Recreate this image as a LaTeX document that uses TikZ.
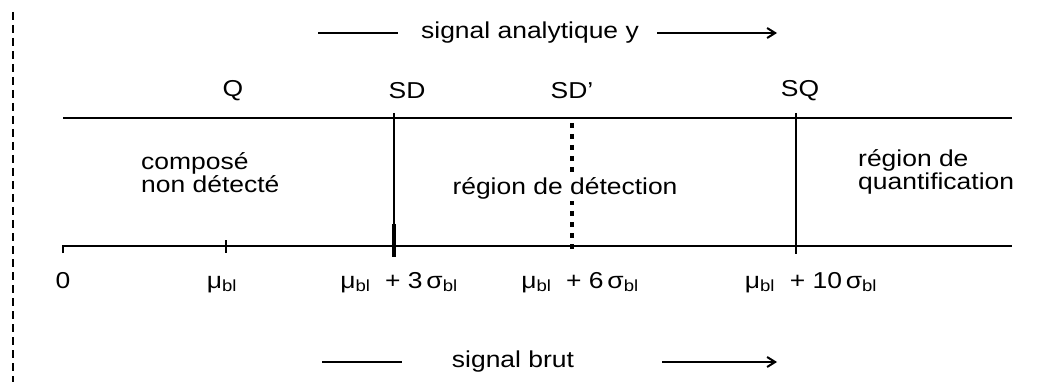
\documentclass[tikz,border=0pt]{standalone}
\usepackage{fontspec}
\setmainfont{Liberation Sans}[FakeStretch=1.15]
\usepackage{tikz}
\usetikzlibrary{positioning, arrows.meta}

\begin{document}
\begin{tikzpicture}[x=1pt, y=-1pt]
        \tikzstyle{lbl} = [font=\fontsize{23}{23}\selectfont, inner sep=0pt]
        \tikzstyle{txt} = [font=\fontsize{23}{23}\selectfont, inner sep=0pt, align=left]
        \tikzstyle{axis} = [line width=2.4pt]
        \tikzstyle{seuil} = [line width=2.4pt]
        \tikzstyle{arrow} = [line width=2pt, -{Straight Barb[length=8pt, width=10pt]}]

        \useasboundingbox (0,0) rectangle (1049,390);

        % bord gauche
        \coordinate (edge_top) at (13,12);
        \coordinate (edge_bot) at (13,382);
        \draw [line width=2pt, dash pattern=on 8pt off 5pt] (edge_top) -- (edge_bot);

        % signal analytique
        \node [lbl] (ana) at (530,33) {signal analytique y};
        \coordinate (ana_a) at (318,33);
        \coordinate (ana_b) at (398,33);
        \coordinate (ana_c) at (657,33);
        \coordinate (ana_d) at (777,33);
        \draw [line width=2pt] (ana_a) -- (ana_b);
        \draw [arrow] (ana_c) -- (ana_d);

        % axes
        \coordinate (top_l) at (63,118);
        \coordinate (top_r) at (1012,118);
        \coordinate (bot_t) at (63,253);
        \coordinate (bot_l) at (63,246);
        \coordinate (bot_r) at (1012,246);
        \draw [axis] (top_l) -- (top_r);
        \draw [axis] (bot_t) -- (bot_l) -- (bot_r);
        \coordinate (mu_t) at (226,240);
        \coordinate (mu_b) at (226,253);
        \draw [axis] (mu_t) -- (mu_b);

        % seuils
        \node [lbl] (q) at (233,91) {Q};
        \node [lbl] (sd) at (407,91) {SD};
        \node [lbl] (sdp) at (572,91) {SD'};
        \node [lbl] (sq) at (800,91) {SQ};
        \coordinate (sd_t) at (394,113);
        \coordinate (sd_m) at (394,224);
        \coordinate (sd_b) at (394,257);
        \draw [seuil] (sd_t) -- (sd_b);
        \draw [line width=3.5pt] (sd_m) -- (sd_b);
        \coordinate (sdp_t) at (572,123);
        \coordinate (sdp_b) at (572,253);
        \draw [line width=3.5pt, dash pattern=on 5pt off 6pt] (sdp_t) -- (sdp_b);
        \coordinate (sq_t) at (796,113);
        \coordinate (sq_b) at (796,254);
        \draw [seuil] (sq_t) -- (sq_b);

        % regions
        \node [txt, anchor=west] (nd) at (141,173) {composé\\non détecté};
        \node [lbl, fill=white, inner sep=2pt] (det) at (565,188) {région de détection};
        \node [txt, anchor=west] (quant) at (858,172) {région de\\quantification};

        % valeurs
        \node [lbl, anchor=base] (v0) at (63,288) {0};
        \node [lbl, anchor=base] (v1) at (222,288) {μ\textsubscript{bl}};
        \node [lbl, anchor=base] (v3) at (399,288) {μ\textsubscript{bl}\ \ + 3\,σ\textsubscript{bl}};
        \node [lbl, anchor=base] (v6) at (580,288) {μ\textsubscript{bl}\ \ + 6\,σ\textsubscript{bl}};
        \node [lbl, anchor=base] (v10) at (811,288) {μ\textsubscript{bl}\ \ + 10\,σ\textsubscript{bl}};

        % signal brut
        \node [lbl] (brut) at (513,362) {signal brut};
        \coordinate (brut_a) at (322,362);
        \coordinate (brut_b) at (402,362);
        \coordinate (brut_c) at (662,362);
        \coordinate (brut_d) at (777,362);
        \draw [line width=2pt] (brut_a) -- (brut_b);
        \draw [arrow] (brut_c) -- (brut_d);
\end{tikzpicture}
\end{document}
